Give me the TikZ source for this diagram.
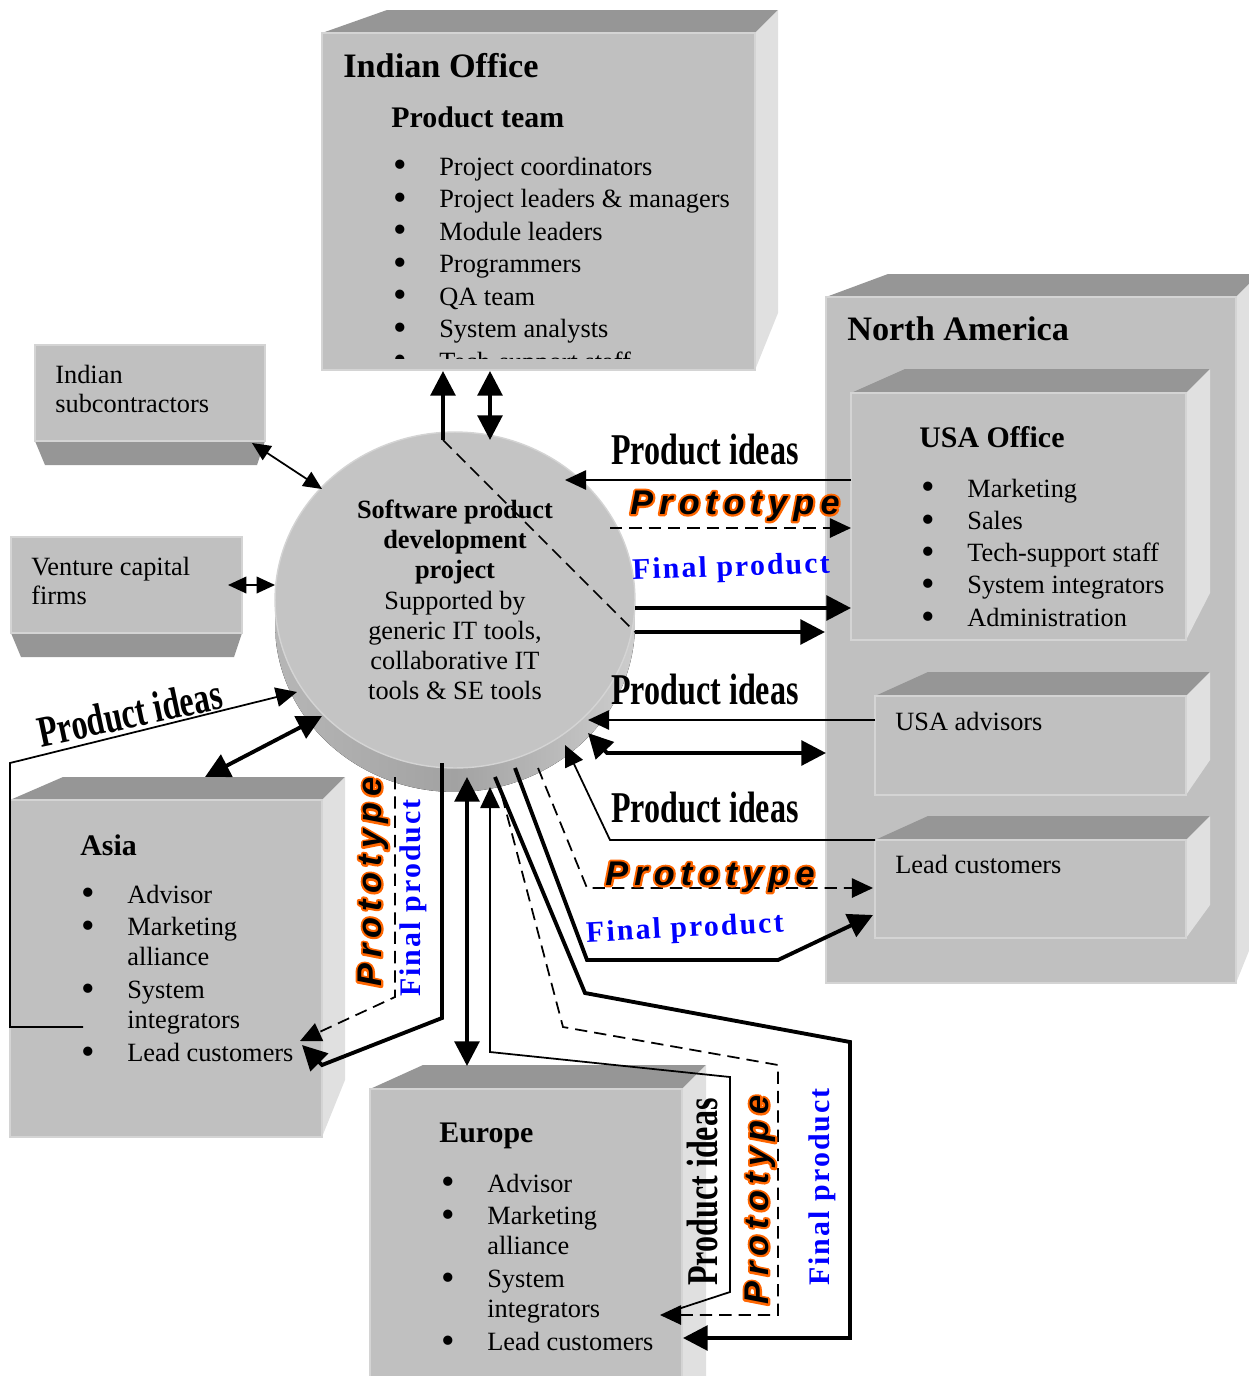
\documentclass[tikz,border=0pt]{standalone}
\usepackage{fontspec}
\setmainfont{Liberation Serif}
\newfontfamily\protofont[LetterSpace=18.0]{Liberation Sans}
\newfontfamily\finalfont[LetterSpace=7.0]{Liberation Serif}
\usepackage{graphicx}
\usetikzlibrary{arrows.meta,shapes.geometric}

\definecolor{frontgray}{RGB}{192,192,192}
\definecolor{topgray}{RGB}{150,150,150}
\definecolor{sidegray}{RGB}{224,224,224}
\definecolor{edgegray}{RGB}{212,212,212}
\definecolor{rimdark}{RGB}{162,162,162}
\definecolor{rimleft}{RGB}{182,182,182}
\definecolor{rimlight}{RGB}{205,205,205}
\definecolor{diskgray}{RGB}{196,196,196}

% x1 y1 x2 y2 (front face), top inset, depth, side drop, name
\newcommand{\drawcube}[8]{%
	\fill[topgray] (#1,#2) -- (#1+#5,#2-#6) -- (#3+#6,#2-#6) -- (#3,#2) -- cycle;
	\fill[sidegray] (#3,#2) -- (#3+#6,#2-#6) -- (#3+#6,#4-#7) -- (#3,#4) -- cycle;
	\filldraw[fill=frontgray, draw=edgegray, line width=0.8pt] (#1,#2) rectangle (#3,#4);
	\coordinate (#8) at ({(#1+#3)/2},{(#2+#4)/2});
}
% x1 y1 x2 y2, name
\newcommand{\drawslab}[5]{%
	\fill[topgray] (#1,#4) -- (#1+10,#4+24) -- (#3-8,#4+24) -- (#3,#4) -- cycle;
	\filldraw[fill=frontgray, draw=edgegray, line width=0.8pt] (#1,#2) rectangle (#3,#4);
	\coordinate (#5) at ({(#1+#3)/2},{(#2+#4)/2});
}
\newcommand{\bul}{\raisebox{-1.6pt}{\fontsize{22}{17}\selectfont\textbullet}}
% orange outline under black letters
\newcommand{\outlined}[1]{\rlap{\special{pdf:literal direct 1 Tr 2.4 w 1 j 1 0.4 0 RG}#1\special{pdf:literal direct 0 Tr}}#1}

\tikzset{
	ptip/.tip={Triangle[length=12pt,width=11pt]},
	stip/.tip={Triangle[length=10.5pt,width=9.5pt]},
	htip/.tip={Triangle[length=14pt,width=14pt]},
	flow/.style={line width=1pt},
	heavy/.style={line width=2.2pt},
	proto/.style={line width=1pt, dash pattern=on 7pt off 4pt},
	boxtxt/.style={anchor=base west, inner sep=0pt, font=\fontsize{15}{17}\selectfont},
	bigtitle/.style={anchor=base west, inner sep=0pt, font=\fontsize{19.5}{22}\selectfont\bfseries},
	midtitle/.style={anchor=base west, inner sep=0pt, font=\fontsize{17}{20}\selectfont\bfseries},
	projdisk/.style={ellipse, minimum width=7.2cm, minimum height=6.72cm, inner sep=0pt,
		fill=diskgray, draw=edgegray, line width=0.8pt, align=center,
		font=\fontsize{15}{17.2}\selectfont},
	idealbl/.style={inner sep=0pt, xscale=0.73, font=\fontsize{25}{25}\selectfont\bfseries},
	protolbl/.style={inner sep=0pt, text=black, font=\protofont\fontsize{19.5}{19.5}\selectfont\bfseries\itshape},
	finallbl/.style={inner sep=0pt, text=blue, font=\finalfont\fontsize{17}{17}\selectfont\bfseries},
}

\begin{document}
\begin{tikzpicture}[x=0.02cm,y=-0.02cm]
	%\draw[help lines] (0,0) grid (1248,1376);
	\useasboundingbox (0,0) rectangle (1248,1376);

	\drawcube{322}{33}{755}{370}{65}{23}{57}{iof}
	\drawslab{35}{345}{265}{441}{sub}
	\drawslab{11}{537}{242}{633}{vcf}
	\drawcube{826}{297}{1236}{983}{62}{23}{57}{nam}
	\drawcube{851}{393}{1186}{640}{54}{24}{47}{usa}
	\drawcube{875}{696}{1186}{795}{53}{24}{35}{adv}
	\drawcube{875}{840}{1186}{938}{53}{24}{33}{lcu}
	\drawcube{10}{800}{322}{1137}{53}{23}{57}{asia}
	\drawcube{370}{1089}{682}{1420}{53}{24}{0}{eur}

	\fill[left color=rimleft, right color=rimlight, middle color=rimdark] (455,624) ellipse [x radius=3.6cm, y radius=3.36cm];
	\node[projdisk] (proj) at (455,600) {\textbf{Software product}\\\textbf{development}\\\textbf{project}\\Supported by\\generic IT tools,\\collaborative IT\\tools \& SE tools};

	\node[bigtitle] (iot) at (343,77) {Indian Office};
	\node[midtitle] (iop) at (391,127) {Product team};
	\begin{scope}
		\clip (322,33) rectangle (755,358);
		\node[boxtxt] (iol) at (393.5,175) {\begin{tabular}[t]{@{}p{0.91cm}@{}l@{}}
			\bul & Project coordinators\\[1.5pt]
			\bul & Project leaders \& managers\\[1.5pt]
			\bul & Module leaders\\[1.5pt]
			\bul & Programmers\\[1.5pt]
			\bul & QA team\\[1.5pt]
			\bul & System analysts\\[1.5pt]
			\bul & Tech-support staff
		\end{tabular}};
	\end{scope}

	\node[boxtxt] (subt) at (55,383) {\begin{tabular}[t]{@{}l@{}}Indian\\subcontractors\end{tabular}};
	\node[boxtxt] (vcft) at (31,575) {\begin{tabular}[t]{@{}l@{}}Venture capital\\firms\end{tabular}};

	\node[bigtitle] (namt) at (847,340) {North America};
	\node[midtitle] (usat) at (919,447) {USA Office};
	\node[boxtxt] (usal) at (921.5,497) {\begin{tabular}[t]{@{}p{0.91cm}@{}l@{}}
		\bul & Marketing\\[1.4pt]
		\bul & Sales\\[1.4pt]
		\bul & Tech-support staff\\[1.4pt]
		\bul & System integrators\\[1.4pt]
		\bul & Administration
	\end{tabular}};
	\node[boxtxt] (advt) at (895,730) {USA advisors};
	\node[boxtxt] (lcut) at (895,873) {Lead customers};

	\node[midtitle] (asiat) at (80,855) {Asia};
	\node[boxtxt] (asial) at (81.5,903) {\begin{tabular}[t]{@{}p{0.91cm}@{}l@{}}
		\bul & Advisor\\[1.7pt]
		\bul & Marketing\\
		& alliance\\[1.7pt]
		\bul & System\\
		& integrators\\[1.7pt]
		\bul & Lead customers
	\end{tabular}};

	\node[midtitle] (eurt) at (439,1142) {Europe};
	\node[boxtxt] (eurl) at (441.5,1192) {\begin{tabular}[t]{@{}p{0.91cm}@{}l@{}}
		\bul & Advisor\\[1.7pt]
		\bul & Marketing\\
		& alliance\\[1.7pt]
		\bul & System\\
		& integrators\\[1.7pt]
		\bul & Lead customers
	\end{tabular}};

	% connector ends
	\coordinate (ioa) at (443,371);
	\coordinate (iob) at (490,371);
	\coordinate (pja) at (443,440);
	\coordinate (pjb) at (635,632);
	\coordinate (pjc) at (490,440);
	\coordinate (naa) at (825,632);
	\coordinate (suba) at (252,443);
	\coordinate (pjd) at (322,489);
	\coordinate (vcfa) at (228,585);
	\coordinate (pje) at (275,585);

	\draw[heavy,-htip] (pja) -- (ioa);
	\draw[proto] (pja) -- (pjb);
	\draw[heavy,-htip] (pjb) -- (naa);
	\draw[heavy,htip-htip] (pjc) -- (iob);
	\draw[flow,stip-stip] (suba) -- (pjd);
	\draw[flow,stip-stip] (vcfa) -- (pje);

	\coordinate (usaa) at (851,480);
	\coordinate (usab) at (851,528);
	\coordinate (usac) at (851,608);
	\coordinate (pjf) at (565,480);
	\coordinate (pjg) at (610,528);
	\coordinate (pjh) at (635,608);
	\draw[flow,-ptip] (usaa) -- (pjf);
	\draw[proto,-ptip] (pjg) -- (usab);
	\draw[heavy,-htip] (pjh) -- (usac);

	\coordinate (adva) at (875,720);
	\coordinate (advb) at (826,753);
	\coordinate (pji) at (588,720);
	\coordinate (pjj) at (588,733);
	\draw[flow,-ptip] (adva) -- (pji);
	\draw[heavy,htip-htip] (pjj) -- (607,753) -- (advb);

	\coordinate (lcua) at (875,840);
	\coordinate (lcub) at (873,888);
	\coordinate (lcuc) at (873,915);
	\coordinate (pjk) at (565,745);
	\coordinate (pjl) at (538,768);
	\coordinate (pjm) at (515,768);
	\draw[flow,-ptip] (lcua) -- (610,840) -- (pjk);
	\draw[proto,-ptip] (pjl) -- (587,888) -- (lcub);
	\draw[heavy,-htip] (pjm) -- (587,960) -- (778,960) -- (lcuc);

	\coordinate (asiaa) at (83,1027);
	\coordinate (asiab) at (205,777);
	\coordinate (asiac) at (300,1041);
	\coordinate (asiad) at (302,1045);
	\coordinate (pjn) at (297,692);
	\coordinate (pjo) at (322,716);
	\coordinate (pjp) at (395,777);
	\coordinate (pjq) at (442,763);
	\draw[flow,-ptip] (asiaa) -- (10,1027) -- (10,763) -- (pjn);
	\draw[heavy,htip-htip] (asiab) -- (pjo);
	\draw[proto,-ptip] (pjp) -- (395,997) -- (asiac);
	\draw[heavy,-htip] (pjq) -- (442,1018) -- (322,1065) -- (asiad);

	\coordinate (eura) at (467,1066);
	\coordinate (eurb) at (672,1311);
	\coordinate (eurc) at (660,1315);
	\coordinate (eurd) at (683,1338);
	\coordinate (pjr) at (467,777);
	\coordinate (pjs) at (490,787);
	\coordinate (pjt) at (502,796);
	\coordinate (pju) at (495,777);
	\draw[heavy,htip-htip] (pjr) -- (eura);
	\draw[flow,-ptip] (eurb) -- (730,1292) -- (730,1077) -- (490,1052) -- (pjs);
	\draw[proto,-ptip] (pjt) -- (563,1027) -- (778,1065) -- (778,1315) -- (eurc);
	\draw[heavy,-htip] (pju) -- (585,993) -- (850,1042) -- (850,1338) -- (eurd);

	% labels
	\node[idealbl] (lpia) at (705,450) {Product ideas};
	\node[protolbl] (lpra) at (735,506) {\outlined{Prototype}};
	\node[rotate=2,finallbl] (lfpa) at (731,569) {Final product};
	\node[idealbl] (lpib) at (705,690) {Product ideas};
	\node[idealbl] (lpic) at (705,808) {Product ideas};
	\node[protolbl] (lprc) at (710,877) {\outlined{Prototype}};
	\node[rotate=3,finallbl] (lfpc) at (685,930) {Final product};
	\node[rotate=12,idealbl] (lpid) at (130,713) {Product ideas};
	\node[rotate=90,protolbl] (lprd) at (373,882) {\outlined{Prototype}};
	\node[rotate=90,finallbl] (lfpd) at (413,898) {Final product};
	\node[rotate=90,idealbl] (lpie) at (703,1192) {Product ideas};
	\node[rotate=90,protolbl] (lpre) at (760,1200) {\outlined{Prototype}};
	\node[rotate=90,finallbl] (lfpe) at (822,1187) {Final product};
\end{tikzpicture}
\end{document}
